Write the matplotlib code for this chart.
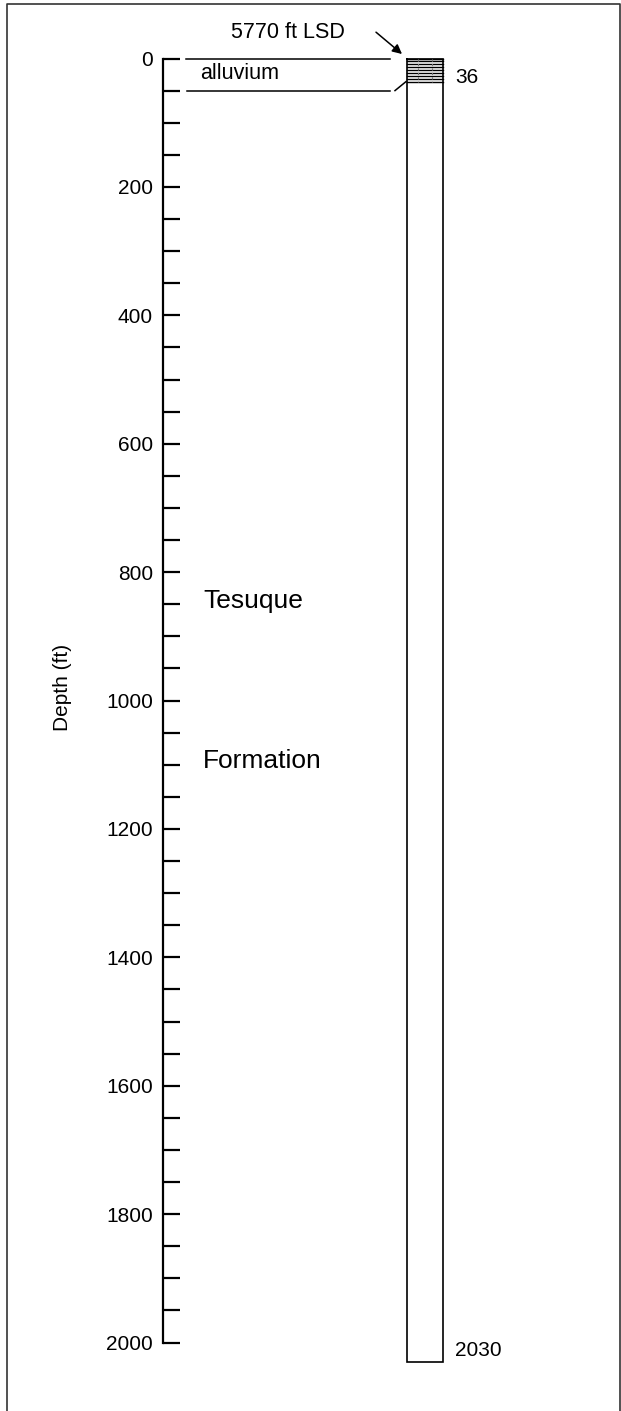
import matplotlib
matplotlib.use("Agg")
import matplotlib.pyplot as plt
from matplotlib.lines import Line2D
import numpy as np

plt.rcParams['font.family'] = ['Liberation Sans', 'DejaVu Sans']

# ---- data ----
depth_ticks = list(range(0, 2001, 50))
labeled_ticks = [0, 200, 400, 600, 800, 1000, 1200, 1400, 1600, 1800, 2000]
well_depth = 2030
alluvium_base = 36
land_surface_ft = 5770
formation_words = ["Tesuque", "Formation"]
formation_depths = [845, 1094]

W, H = 621, 1411
fig = plt.figure(figsize=(W / 100, H / 100), dpi=100)
ax = fig.add_axes([0, 0, 1, 1])
ax.set_facecolor('none')

# pixel mapping: depth 0 -> 58.5 px from top, 0.642 px / ft
y0, s = 58.5, 0.642
ax.set_xlim(0, W)
ax.set_ylim((H - y0) / s, -y0 / s)

for sp in ['top', 'right', 'bottom']:
    ax.spines[sp].set_visible(False)
ax.spines['left'].set_position(('data', 163))
ax.spines['left'].set_bounds(0, 2000)
ax.spines['left'].set_linewidth(1.6)
ax.set_xticks([])
ax.set_yticks(depth_ticks)
ax.set_yticklabels([str(v) if v in labeled_ticks else '' for v in depth_ticks])
ax.tick_params(axis='y', direction='in', length=12, width=1.6, pad=7.2,
               labelsize=15, colors='black')

ax.text(62, 980, 'Depth (ft)', rotation=90, ha='center', va='center', fontsize=15)

# well column
col_l, col_r = 407, 443
ax.plot([col_l, col_l, col_r, col_r, col_l], [0, well_depth, well_depth, 0, 0],
        color='black', lw=1.2, solid_joinstyle='miter')
for d in np.linspace(0, alluvium_base, 9):
    ax.plot([col_l, col_r], [d, d], color='black', lw=1.0)
for xv in [418, 432]:
    ax.plot([xv, xv], [0, alluvium_base], color='#777777', lw=0.8, ls=(0, (2, 2)))

ax.text(455, 29, str(alluvium_base), ha='left', va='center', fontsize=15)
ax.text(455, 2012, str(well_depth), ha='left', va='center', fontsize=15)

# alluvium annotation
ax.plot([186, 390], [0, 0], color='black', lw=1.1)
ax.plot([187, 390], [50, 50], color='black', lw=1.1)
ax.plot([395, 406], [50, alluvium_base], color='black', lw=1.1)
ax.text(200, 23, 'alluvium', ha='left', va='center', fontsize=15.5)

ax.text(287.5, -40, f'{land_surface_ft} ft LSD', ha='center', va='center', fontsize=15.5)
ax.annotate('', xy=(402, -7), xytext=(376, -41),
            arrowprops=dict(arrowstyle='-|>', color='black', lw=1.1,
                            mutation_scale=14, shrinkA=0, shrinkB=0))

for word, d in zip(formation_words, formation_depths):
    ax.text(203, d, word, ha='left', va='center', fontsize=19)

# outer frame (open at bottom)
fx = lambda x: x / W
fy = lambda y: 1 - y / H
fig.add_artist(Line2D([fx(6.5), fx(6.5), fx(620), fx(620)],
                      [fy(H + 10), fy(4), fy(4), fy(H + 10)],
                      transform=fig.transFigure, color='#333333', lw=1.2))

fig.savefig('out.png', dpi=100)
